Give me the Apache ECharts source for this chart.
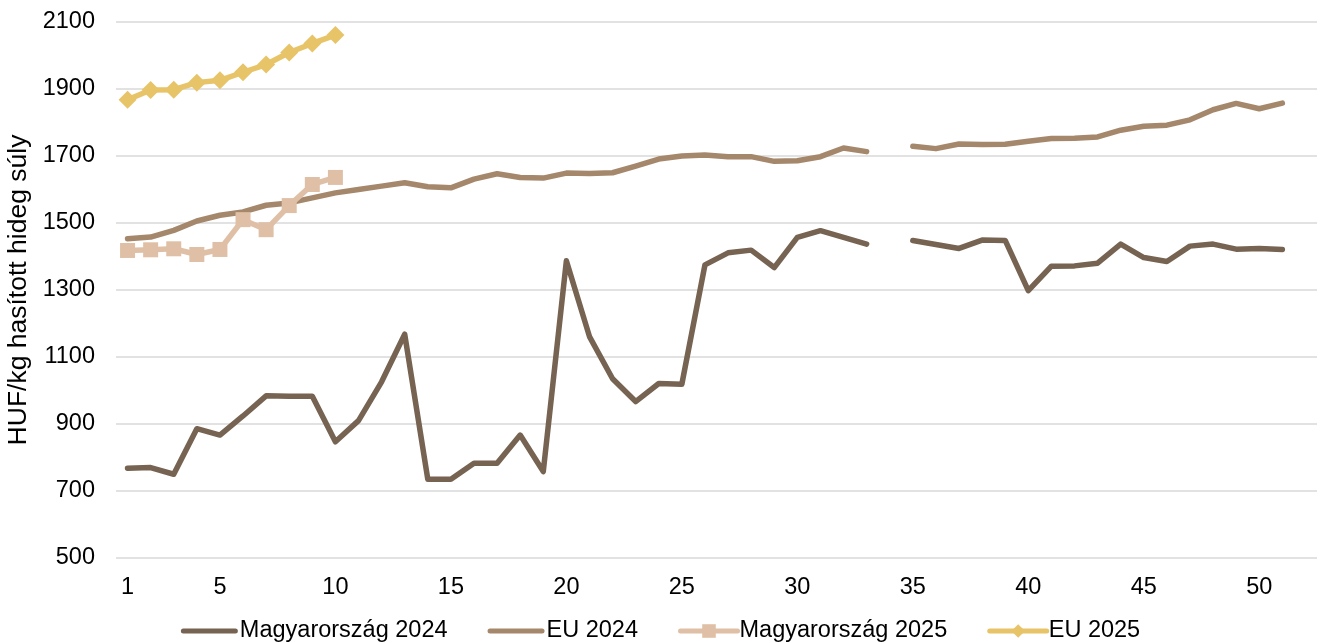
<!DOCTYPE html>
<html>
<head>
<meta charset="utf-8">
<script src="https://cdn.jsdelivr.net/npm/echarts@6/dist/echarts.min.js"></script>
<style>
  html, body { margin: 0; padding: 0; background: #fff; }
  #chart { width: 1321px; height: 643px; }
</style>
</head>
<body>
<div id="chart"></div>
<script>
// hetek (52. csak hely a tengely végén)
var weeks = [];
for (var w = 1; w <= 52; w++) weeks.push(String(w));

var hu2024 = [768, 770, 750, 886, 867, 924, 984, 983, 983, 847,
  910, 1026, 1168, 735, 735, 783, 783, 867, 758, 1387,
  1161, 1035, 967, 1021, 1019, 1375, 1411, 1419, 1367, 1457,
  1477, 1457, 1437, null, 1448, 1436, 1424, 1449, 1448, 1298,
  1371, 1372, 1380, 1437, 1397, 1385, 1431, 1437, 1422, 1424, 1421];

var eu2024 = [1453, 1458, 1478, 1506, 1523, 1533, 1553, 1560, 1575, 1590,
  1600, 1610, 1620, 1608, 1605, 1631, 1647, 1636, 1634, 1649,
  1648, 1650, 1670, 1691, 1700, 1703, 1698, 1698, 1684, 1686,
  1698, 1724, 1713, null, 1729, 1722, 1736, 1734, 1735, 1744,
  1752, 1753, 1757, 1777, 1789, 1792, 1808, 1838, 1857, 1841, 1858];

var hu2025 = [1418, 1420, 1423, 1406, 1421, 1510, 1480, 1552, 1615, 1636];
var eu2025 = [1868, 1897, 1898, 1919, 1926, 1950, 1973, 2009, 2036, 2061];

var FONT = '"Liberation Sans", Arial, sans-serif';
var BAR_ICON = 'path://M2.5,0 L54.5,0 A2.5,2.5 0 0 1 54.5,5 L2.5,5 A2.5,2.5 0 0 1 2.5,0 Z';

var chart = echarts.init(document.getElementById('chart'));

function line(name, data, color, symbol) {
  return {
    name: name,
    type: 'line',
    data: data,
    connectNulls: false,
    symbol: symbol || 'none',
    symbolSize: symbol === 'diamond' ? 18 : 15,
    showSymbol: !!symbol,
    showAllSymbol: true,
    itemStyle: { color: color },
    lineStyle: { color: color, width: 5.5, cap: 'round', join: 'round' },
    emphasis: { disabled: true },
    animation: false
  };
}

chart.setOption({
  backgroundColor: '#fff',
  textStyle: { fontFamily: FONT },
  grid: { left: 116, right: 4, top: 22, bottom: 85, containLabel: false, outerBoundsMode: 'none' },
  legend: {
    top: 614,
    left: 'center',
    itemWidth: 57,
    itemHeight: 17,
    itemGap: 40,
    lineStyle: { width: 5, cap: 'round' },
    textStyle: { fontSize: 23.5, color: '#000', fontFamily: FONT, padding: [0, 0, 0, -3] },
    data: [
      { name: 'Magyarország 2024', icon: BAR_ICON },
      { name: 'EU 2024', icon: BAR_ICON },
      'Magyarország 2025',
      'EU 2025'
    ]
  },
  xAxis: {
    type: 'category',
    data: weeks,
    boundaryGap: true,
    axisLine: { show: false },
    axisTick: { show: false },
    axisLabel: {
      color: '#000',
      fontSize: 23.5,
      margin: 18,
      fontFamily: FONT,
      interval: function(idx) { return idx === 0 || ((idx + 1) % 5 === 0 && idx < 51); }
    }
  },
  yAxis: {
    type: 'value',
    min: 500,
    max: 2100,
    interval: 200,
    name: 'HUF/kg hasított hideg súly',
    nameLocation: 'middle',
    nameGap: 76,
    nameTextStyle: { fontSize: 26.5, color: '#000', fontFamily: FONT },
    axisLine: { show: false },
    axisTick: { show: false },
    axisLabel: {
      color: '#000', fontSize: 23.5, margin: 21, fontFamily: FONT,
      formatter: function(v) { return String(v); }
    },
    splitLine: { lineStyle: { color: '#d9d9d9', width: 1.5 } }
  },
  series: [
    line('Magyarország 2024', hu2024, '#766351'),
    line('EU 2024', eu2024, '#a5876c'),
    line('Magyarország 2025', hu2025, '#dfc0a6', 'rect'),
    line('EU 2025', eu2025, '#e8c468', 'diamond')
  ]
});

window.addEventListener('resize', function() { chart.resize(); });
</script>
</body>
</html>
